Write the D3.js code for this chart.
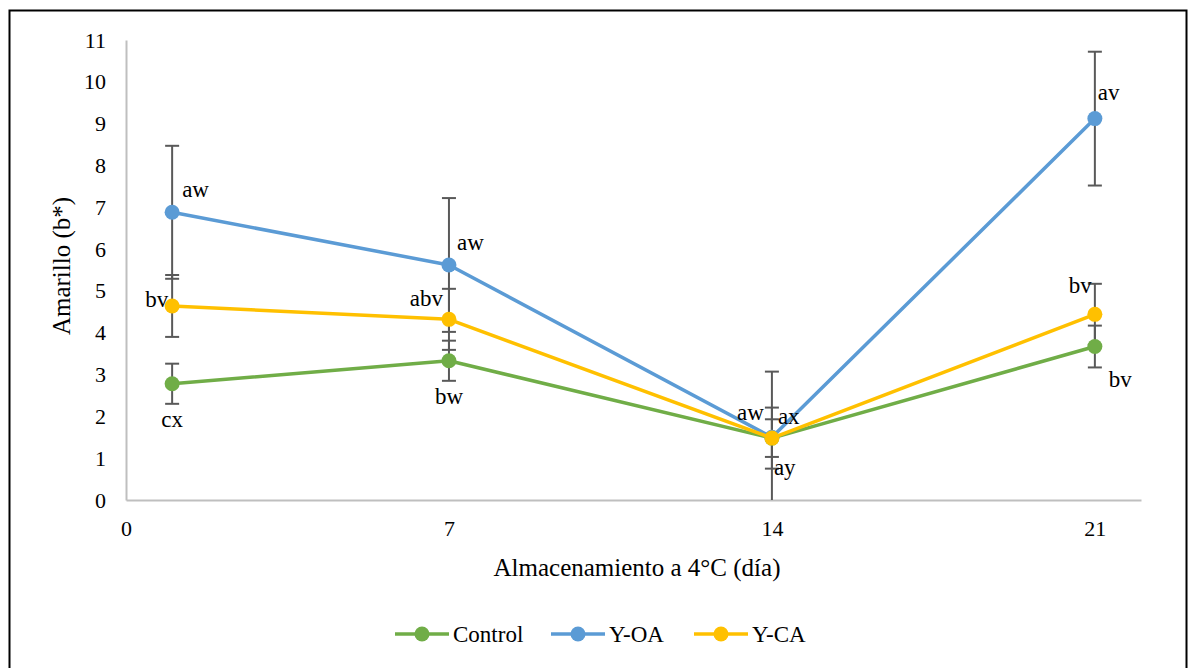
<!DOCTYPE html>
<html><head><meta charset="utf-8">
<script src="https://cdn.jsdelivr.net/npm/d3@7"></script>
<style>body{margin:0;background:#fff}svg{display:block}</style>
</head><body><svg id="c" width="1189" height="668"></svg>
<script>
const days = [1, 7, 14, 21];
const xTicks = [0, 7, 14, 21];
const yTicks = [0,1,2,3,4,5,6,7,8,9,10,11];
const seriesNames = ["Control", "Y-OA", "Y-CA"];
const controlVals = [2.78, 3.33, 1.48, 3.67];
const controlErr = [0.48, 0.48, 0.45, 0.50];
const controlLbl = ["cx", "bw", "ay", "bv"];
const yoaVals = [6.88, 5.62, 1.50, 9.12];
const yoaErr = [1.59, 1.60, 1.57, 1.60];
const yoaLbl = ["aw", "aw", "ax", "av"];
const ycaVals = [4.64, 4.32, 1.48, 4.44];
const ycaErr = [0.74, 0.73, 0.73, 0.73];
const ycaLbl = ["bv", "abv", "aw", "bv"];
const colors = ["#70AD47", "#5B9BD5", "#FFC000"];
const FONT = "'Liberation Serif', Tinos, 'Times New Roman', 'DejaVu Serif', serif";

const series = [
  {name: seriesNames[0], vals: controlVals, err: controlErr, lbl: controlLbl, color: colors[0]},
  {name: seriesNames[1], vals: yoaVals, err: yoaErr, lbl: yoaLbl, color: colors[1]},
  {name: seriesNames[2], vals: ycaVals, err: ycaErr, lbl: ycaLbl, color: colors[2]}
];
// label placement per series/point: [dx, dy, anchor]
const lblPos = [
  [[0, 36, "middle"], [0, 36, "middle"], [2, 30, "start"], [14, 33, "start"]],
  [[10, -22, "start"], [8, -22, "start"], [6, -20, "start"], [3, -26, "start"]],
  [[-4, -6, "end"], [-6, -20, "end"], [-8, -25, "end"], [-3, -28, "end"]]
];

const svg = d3.select("#c").style("font-family", FONT);
svg.append("rect").attr("x", 9.5).attr("y", 10.5).attr("width", 1177).attr("height", 680)
  .attr("fill", "none").attr("stroke", "#000").attr("stroke-width", 2);

const x = d3.scaleLinear().domain([0, 22]).range([126, 1141]);
const y = d3.scaleLinear().domain([0, 11]).range([500, 40]);

const yAx = svg.append("g").attr("transform", "translate(126,0)")
  .call(d3.axisLeft(y).tickValues(yTicks).tickSize(0).tickPadding(20).tickFormat(d3.format("d")));
yAx.attr("font-family", FONT).attr("font-size", 22);
yAx.select(".domain").attr("stroke", "#BFBFBF").attr("stroke-width", 2);
yAx.selectAll("text").attr("fill", "#000");

const xAx = svg.append("g").attr("transform", "translate(0,500)")
  .call(d3.axisBottom(x).tickValues(xTicks).tickSize(0).tickPadding(20).tickFormat(d3.format("d")));
xAx.attr("font-family", FONT).attr("font-size", 22);
xAx.select(".domain").attr("stroke", "#BFBFBF").attr("stroke-width", 2);
xAx.selectAll("text").attr("fill", "#000");

svg.append("text").attr("transform", "translate(70,266) rotate(-90)").attr("text-anchor", "middle")
  .attr("font-family", FONT).attr("font-size", 25).text("Amarillo (b*)");
svg.append("text").attr("x", 637).attr("y", 576).attr("text-anchor", "middle")
  .attr("font-family", FONT).attr("font-size", 25).text("Almacenamiento a 4°C (día)");

const line = d3.line().x((d, i) => x(days[i])).y(d => y(d));
const clampY = v => y(Math.max(0, Math.min(11, v)));

// error bars
series.forEach(s => {
  const g = svg.append("g");
  s.vals.forEach((v, i) => {
    const cx = x(days[i]);
    const top = clampY(v + s.err[i]), bot = clampY(v - s.err[i]);
    g.append("line").attr("x1", cx).attr("x2", cx).attr("y1", top).attr("y2", bot)
      .attr("stroke", "#595959").attr("stroke-width", 2);
    [v + s.err[i], v - s.err[i]].forEach(e => {
      if (e >= 0 && e <= 11) g.append("line").attr("x1", cx - 7).attr("x2", cx + 7)
        .attr("y1", y(e)).attr("y2", y(e)).attr("stroke", "#595959").attr("stroke-width", 2);
    });
  });
});

series.forEach(s => {
  svg.append("path").datum(s.vals).attr("d", line).attr("fill", "none")
    .attr("stroke", s.color).attr("stroke-width", 3.5).attr("stroke-linejoin", "round");
  svg.selectAll(null).data(s.vals).enter().append("circle")
    .attr("cx", (d, i) => x(days[i])).attr("cy", d => y(d)).attr("r", 7.5).attr("fill", s.color);
});

series.forEach((s, si) => {
  s.vals.forEach((v, i) => {
    const p = lblPos[si][i];
    svg.append("text").attr("x", x(days[i]) + p[0]).attr("y", y(v) + p[1] + 7)
      .attr("text-anchor", p[2]).attr("font-family", FONT).attr("font-size", 23).text(s.lbl[i]);
  });
});

// legend
const legX = [395, 551, 694];
series.forEach((s, i) => {
  const g = svg.append("g").attr("transform", `translate(${legX[i]},634)`);
  g.append("line").attr("x1", 0).attr("x2", 54).attr("stroke", s.color).attr("stroke-width", 3.5);
  g.append("circle").attr("cx", 27).attr("r", 7.5).attr("fill", s.color);
  g.append("text").attr("x", 58).attr("y", 8).attr("font-family", FONT).attr("font-size", 23).text(s.name);
});
</script></body></html>
